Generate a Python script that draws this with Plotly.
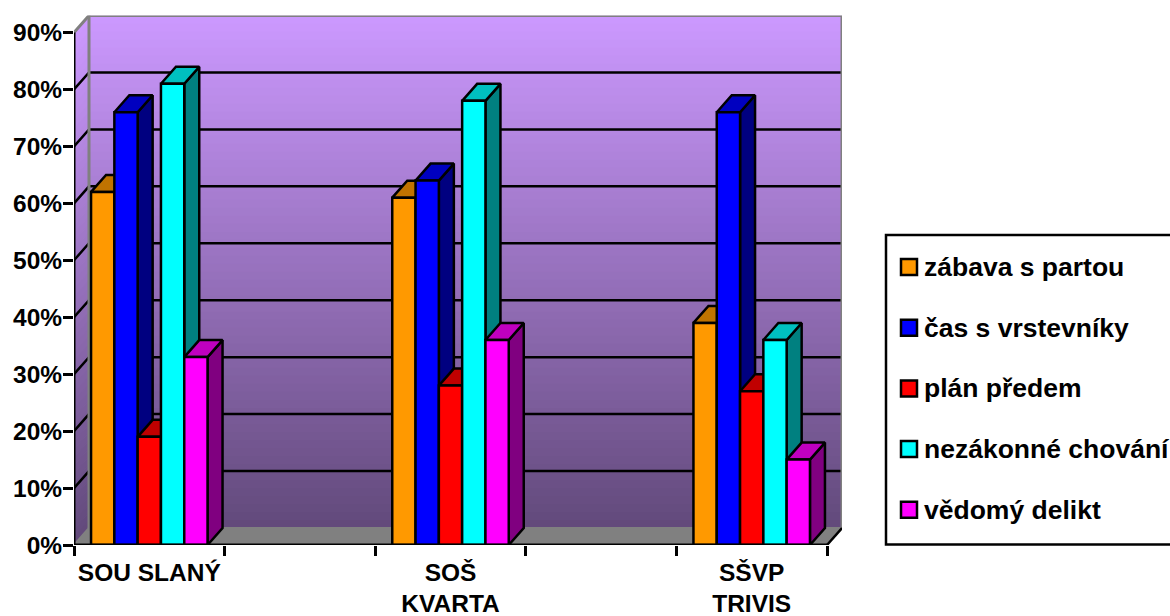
import plotly.graph_objects as go

categories = ["SOU SLANÝ", "SOŠ<br>KVARTA", "SŠVP<br>TRIVIS"]
series_names = ["zábava s partou", "čas s vrstevníky", "plán předem", "nezákonné chování", "vědomý delikt"]
zabava = [0.62, 0.61, 0.39]
cas = [0.76, 0.64, 0.76]
plan = [0.19, 0.28, 0.27]
nezakonne = [0.81, 0.78, 0.36]
vedomy = [0.33, 0.36, 0.15]
series_values = [zabava, cas, plan, nezakonne, vedomy]
y_ticks = [0, 0.1, 0.2, 0.3, 0.4, 0.5, 0.6, 0.7, 0.8, 0.9]

front = ["#FF9900", "#0000FF", "#FF0000", "#00FFFF", "#FF00FF"]
top = ["#C07300", "#0000C0", "#C00000", "#00C0C0", "#C000C0"]
side = ["#804D00", "#000080", "#800000", "#008080", "#800080"]

W, H = 1170, 616
X0, X5, Y0, Y90 = 74, 827, 545, 32.5
PX = (X5 - X0) / 5
PY = (Y0 - Y90) / 0.9
DX = 15 / PX
DY = 17 / PY
centers = [0.5, 2.5, 4.5]
BW = 23.3 / PX
START = -2.5 * BW
XMAX = 5 + DX
YMAX = 0.9 + DY

fig = go.Figure()
shapes = []

# gradient walls
N = 64
def shade(t):
    f = 1 - 0.52 * t
    return f"rgb({204*f:.0f},{153*f:.0f},{255*f:.0f})"
for k in range(N):
    a = YMAX - (0.9) * k / N
    b = YMAX - (0.9) * (k + 1) / N - 0.002
    col = shade((k + 0.5) / N)
    shapes.append(dict(type="rect", xref="x", yref="y", x0=DX, x1=XMAX, y0=b, y1=a,
                       fillcolor=col, line_width=0, layer="below"))
    shapes.append(dict(type="path", xref="x", yref="y", layer="below", fillcolor=col, line_width=0,
                       path=f"M 0 {a-DY} L {DX} {a} L {DX} {b} L 0 {b-DY} Z"))
fig.update_layout(shapes=shapes)

def line(xs, ys, color, width, z=1, fill=None):
    fig.add_trace(go.Scatter(x=xs, y=ys, mode="lines", line=dict(color=color, width=width),
                             fill=fill, fillcolor=fill and color, hoverinfo="skip",
                             showlegend=False, cliponaxis=False, zorder=z))

# floor
fig.add_trace(go.Scatter(x=[0, DX, XMAX, 5, 0], y=[0, DY, DY, 0, 0], mode="lines", fill="toself",
                         fillcolor="#808080", line=dict(color="#808080", width=1),
                         hoverinfo="skip", showlegend=False, cliponaxis=False, zorder=1))
# grid
for v in y_ticks[1:-1]:
    line([0, DX, XMAX], [v, v + DY, v + DY], "black", 2.5, 2)
# wall edges
line([0, DX, XMAX, XMAX], [0.9, YMAX, YMAX, DY], "#808080", 3, 3)
line([DX, DX], [YMAX, DY], "#808080", 3, 3)
line([DX, XMAX], [DY, DY], "#808080", 2, 3)
line([0, DX], [0, DY], "#808080", 2, 3)
line([5, XMAX], [0, DY], "black", 2.5, 3)
# axes
line([0, 0], [0, 0.9], "black", 3, 40)
line([0, 5], [0, 0], "black", 3, 40)

# bars
for i, (name, vals) in enumerate(zip(series_names, series_values)):
    off = START + i * BW
    sx, sy, tx, ty = [], [], [], []
    for c, v in zip(centers, vals):
        l = c + off
        r = l + BW
        sx += [r, r + DX, r + DX, r, r, None]
        sy += [0, DY, v + DY, v, 0, None]
        tx += [l, l + DX, r + DX, r, l, None]
        ty += [v, v + DY, v + DY, v, v, None]
    z = 10 + 3 * i
    fig.add_trace(go.Scatter(x=sx, y=sy, mode="lines", fill="toself", fillcolor=side[i],
                             line=dict(color="black", width=2.5), hoverinfo="skip",
                             showlegend=False, cliponaxis=False, zorder=z))
    fig.add_trace(go.Scatter(x=tx, y=ty, mode="lines", fill="toself", fillcolor=top[i],
                             line=dict(color="black", width=2.5), hoverinfo="skip",
                             showlegend=False, cliponaxis=False, zorder=z + 1))
    fig.add_trace(go.Bar(x=centers, y=vals, name=name, width=BW, offset=off, zorder=z + 2,
                         marker=dict(color=front[i], line=dict(color="black", width=2.5)),
                         showlegend=False, cliponaxis=False))

# manual legend
fig.add_shape(type="rect", xref="paper", yref="paper", x0=886 / W, x1=1180 / W,
              y0=1 - 544.5 / H, y1=1 - 235 / H, fillcolor="white", line=dict(color="black", width=2.5))
row_y = [267, 327.7, 388.4, 449.1, 509.8]
annotations = []
for name, col, ry in zip(series_names, front, row_y):
    fig.add_shape(type="rect", xref="paper", yref="paper", x0=901 / W, x1=917 / W,
                  y0=1 - (ry + 8) / H, y1=1 - (ry - 8) / H, fillcolor=col, line=dict(color="black", width=2.5))
    annotations.append(dict(text=f"<b>{name}</b>", xref="paper", yref="paper", x=922 / W, y=1 - ry / H,
                            xanchor="left", yanchor="middle", showarrow=False,
                            font=dict(family="Liberation Sans", size=26.5, color="black")))

fig.update_layout(
    width=W, height=H, autosize=False, margin=dict(l=0, r=0, t=0, b=0),
    paper_bgcolor="white", plot_bgcolor="rgba(0,0,0,0)", barmode="overlay", showlegend=False,
    annotations=annotations,
    font=dict(family="Liberation Sans", color="black"),
    xaxis=dict(domain=[X0 / W, (X5 + 15) / W], range=[0, XMAX], showgrid=False, zeroline=False, showline=False,
               automargin=False, tickmode="array", tickvals=centers, ticktext=[f"<b>{c}</b>" for c in categories],
               ticks="", tickangle=0, ticklabelstandoff=10, tickfont=dict(size=24.5, family="Liberation Sans"),
               minor=dict(ticks="outside", tickmode="array", tickvals=[0, 1, 2, 3, 4, 5], ticklen=10,
                          tickwidth=2.5, tickcolor="black", showgrid=False)),
    yaxis=dict(domain=[1 - Y0 / H, 1 - 15.5 / H], range=[0, YMAX], showgrid=False, zeroline=False, showline=False,
               automargin=False, tickmode="array", tickvals=y_ticks, ticktext=[f"<b>{round(v*100)}%</b>" for v in y_ticks],
               ticks="outside", ticklen=10, tickwidth=2.5, tickcolor="black", ticklabelstandoff=-4,
               tickfont=dict(size=24.5, family="Liberation Sans")),
)

fig.write_html("out.html", config=dict(displayModeBar=False), post_script="document.body.style.margin='0';")
